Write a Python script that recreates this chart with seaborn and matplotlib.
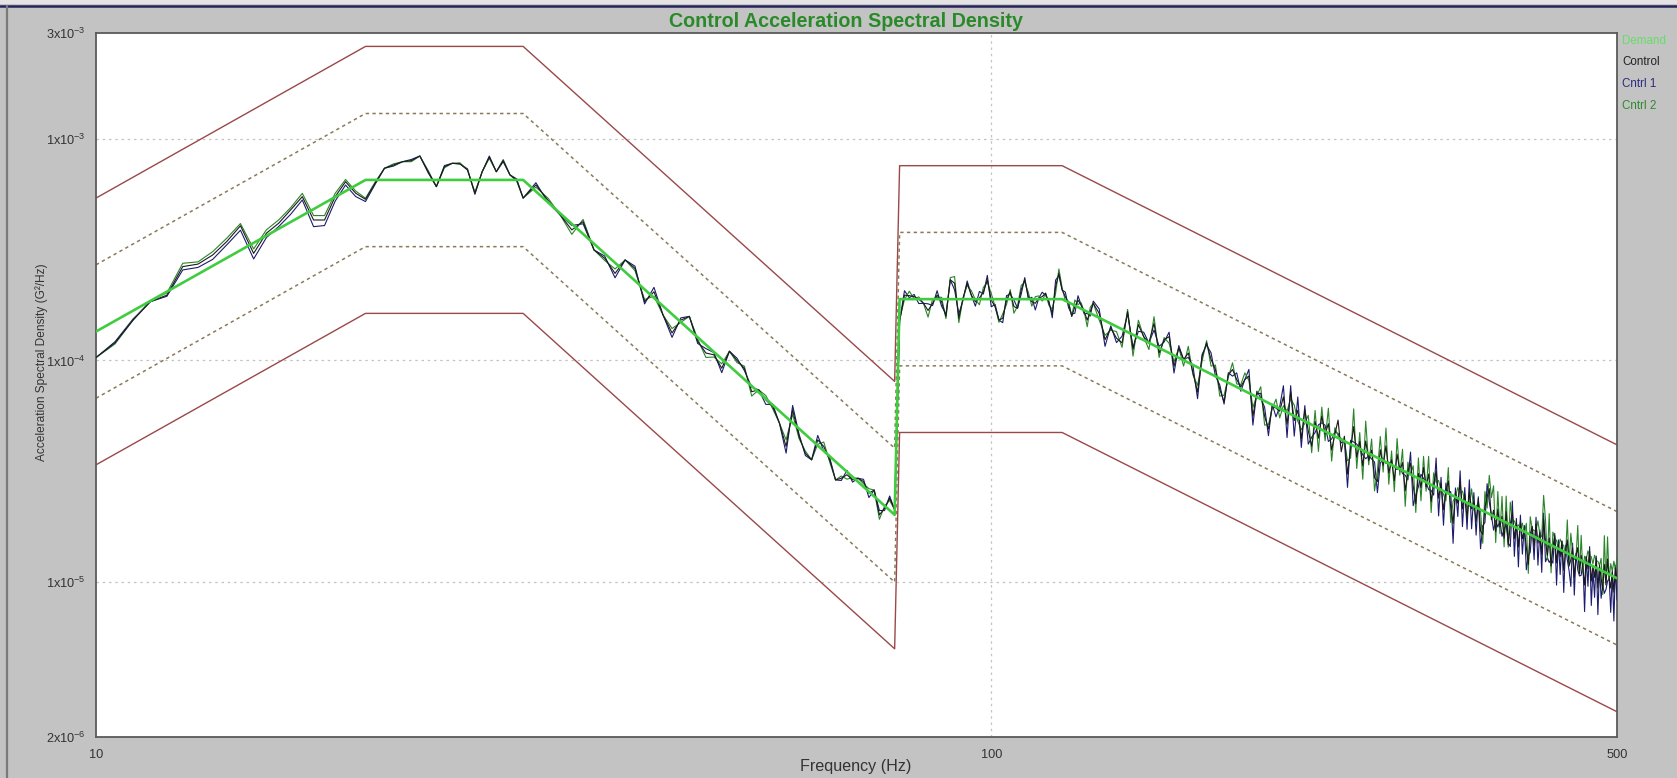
import numpy as np
import pandas as pd
import matplotlib
matplotlib.use("Agg")
import matplotlib.pyplot as plt
import seaborn as sns
from matplotlib.lines import Line2D
from matplotlib.patches import Rectangle
from matplotlib.ticker import FixedLocator, FixedFormatter, LogLocator, NullFormatter

# ---------------------------------------------------------------- data
# reference profile breakpoints (Hz) and levels (g^2/Hz)
profile_freq = [10, 20, 30, 78, 79, 120, 500]
demand_psd = [1.35e-4, 6.52e-4, 6.52e-4, 2.01e-5, 1.89e-4, 1.89e-4, 1.04e-5]
abort_hi_psd = [5.40e-4, 2.61e-3, 2.61e-3, 8.04e-5, 7.56e-4, 7.56e-4, 4.16e-5]
alarm_hi_psd = [2.70e-4, 1.30e-3, 1.30e-3, 4.02e-5, 3.78e-4, 3.78e-4, 2.08e-5]
alarm_lo_psd = [6.75e-5, 3.26e-4, 3.26e-4, 1.00e-5, 9.45e-5, 9.45e-5, 5.20e-6]
abort_lo_psd = [3.38e-5, 1.63e-4, 1.63e-4, 5.00e-6, 4.73e-5, 4.73e-5, 2.60e-6]

# analysis frequency lines of the measured spectra (Hz)
freq_a = np.arange(10.0, 30.01, 0.5)   # 41 lines
freq_b = np.arange(31, 79, 1)          # 48 lines
freq_c = np.arange(79, 131, 1)         # 52 lines
freq_d = np.arange(132, 211, 2)        # 40 lines
freq_e = np.arange(212, 501, 2)        # 145 lines

# averaged control spectrum, in units of 1e-6 g^2/Hz
control_a = [103, 120, 152, 184, 197, 265, 272, 299, 344, 405,
             304, 375, 416, 478, 548, 430, 430, 548, 640, 568,
             533, 630, 736, 762, 788, 797, 836, 710, 608, 748,
             775, 770, 723, 568, 710, 826, 710, 797, 687, 652, 540]
control_b = [619, 526, 453, 388, 423, 315, 289, 247, 284, 260,
             184, 204, 160, 133, 152, 158, 122, 108, 106, 92.2,
             110, 100, 92.0, 72.3, 73.6, 66.3, 61.9, 52.1, 40.9, 59.8,
             45.4, 38.1, 35.6, 43.8, 40.9, 35.6, 28.9, 29.4, 30.5, 28.9,
             29.4, 28.4, 25.2, 26.0, 20.1, 21.5, 23.9, 21.2]
control_c = [150, 197, 196, 194, 189, 181, 168, 181, 197, 184,
             158, 231, 223, 155, 191, 223, 197, 184, 191, 204,
             231, 187, 175, 152, 155, 187, 204, 175, 172, 208,
             231, 194, 184, 181, 191, 194, 201, 181, 163, 215,
             247, 208, 194, 181, 158, 175, 187, 178, 166, 152,
             166, 181]
control_d = [163, 124, 140, 126, 120, 166, 112, 145, 128, 120,
             147, 108, 124, 128, 94, 114, 101, 108, 88, 72,
             104, 120, 101, 91, 74, 65, 86, 91, 82, 76,
             82, 85, 56, 71, 71, 56, 49, 62, 61, 59]
control_e = [68.5, 51.5, 71.8, 53.5, 59.6, 44.4, 59.7, 48.1, 41.1, 53.0,
             44.6, 56.1, 46.5, 51.8, 39.4, 46.4, 53.8, 38.7, 45.5, 30.7,
             39.8, 50.3, 36.5, 43.1, 33.4, 43.3, 35.4, 39.4, 29.6, 28.4,
             39.5, 33.6, 41.2, 31.0, 35.6, 28.7, 37.8, 31.8, 34.6, 25.8,
             31.7, 34.4, 27.2, 22.6, 30.9, 26.7, 32.9, 26.9, 30.7, 23.1,
             27.7, 31.6, 23.9, 27.7, 21.2, 25.5, 28.6, 21.8, 18.4, 25.4,
             22.7, 28.3, 21.4, 24.9, 19.4, 25.2, 21.4, 23.1, 18.7, 23.7,
             17.0, 16.4, 21.8, 24.2, 26.4, 19.1, 21.1, 16.9, 21.3, 17.7,
             19.8, 15.8, 20.8, 14.7, 18.2, 20.7, 15.7, 18.5, 14.4, 18.7,
             15.7, 17.2, 14.3, 12.0, 16.4, 17.8, 14.5, 18.3, 15.0, 16.8,
             13.3, 19.1, 15.2, 13.2, 15.8, 11.8, 14.3, 16.2, 12.2, 14.8,
             13.0, 15.3, 11.3, 13.7, 15.5, 11.8, 12.6, 14.3, 10.5, 13.2,
             14.3, 10.9, 13.2, 11.5, 9.7, 13.0, 11.5, 13.8, 10.1, 11.8,
             10.5, 12.8, 9.4, 11.9, 10.4, 9.2, 12.0, 9.7, 12.7, 10.4,
             9.4, 11.2, 9.0, 11.6, 10.2]

# individual control channels: difference to the averaged control (dB)
cntrl1_db_a = [0.0, 0.05, 0.05, 0.0, -0.05, -0.15, -0.15, -0.2, -0.15, -0.2,
               -0.25, -0.2, -0.15, -0.2, -0.15, -0.3, -0.25, -0.2, -0.15, -0.15,
               -0.1, -0.05, 0.0, -0.05, 0.0, 0.05, 0.0, -0.05, 0.0, 0.05,
               0.0, 0.0, 0.05, -0.05, 0.0, 0.05, 0.0, -0.05, 0.0, 0.05, 0.0]
cntrl2_db_a = [0.0, -0.05, 0.0, 0.05, 0.1, 0.15, 0.1, 0.15, 0.15, 0.1,
               0.2, 0.15, 0.15, 0.1, 0.15, 0.2, 0.2, 0.15, 0.1, 0.1,
               0.05, 0.05, 0.0, 0.05, 0.0, -0.05, 0.0, 0.05, 0.0, -0.05,
               0.0, 0.05, 0.0, 0.05, 0.0, -0.05, 0.0, 0.05, 0.0, -0.05, 0.0]
cntrl1_db_b = [0.1, -0.1, 0.0, 0.2, -0.1, 0.0, 0.1, -0.2, 0.0, 0.1,
               -0.1, 0.2, 0.0, -0.2, 0.1, 0.0, -0.1, 0.2, 0.1, -0.2,
               0.0, 0.1, -0.1, 0.2, 0.0, -0.2, 0.1, 0.0, -0.3, 0.2,
               0.1, -0.1, 0.0, 0.2, -0.2, 0.1, 0.0, -0.1, 0.2, -0.1,
               0.0, 0.1, -0.2, 0.0, 0.2, -0.1, 0.1, 0.0]
cntrl2_db_b = [-0.1, 0.1, 0.0, -0.2, 0.1, 0.0, -0.1, 0.2, 0.0, -0.1,
               0.1, -0.2, 0.0, 0.2, -0.1, 0.0, 0.1, -0.2, -0.1, 0.2,
               0.0, -0.1, 0.1, -0.2, 0.0, 0.2, -0.1, 0.0, 0.3, -0.2,
               -0.1, 0.1, 0.0, -0.2, 0.2, -0.1, 0.0, 0.1, -0.2, 0.1,
               0.0, -0.1, 0.2, 0.0, -0.2, 0.1, -0.1, 0.0]
cntrl1_db_c = [0.0, 0.2, -0.1, 0.1, -0.2, 0.0, 0.3, -0.1, 0.2, -0.2,
               0.1, 0.0, -0.3, 0.2, -0.1, 0.1, 0.0, -0.2, 0.3, -0.1,
               0.2, -0.3, 0.1, 0.0, -0.2, 0.2, -0.1, 0.3, 0.0, -0.2,
               0.1, -0.1, 0.2, -0.3, 0.0, 0.2, -0.1, 0.1, -0.2, 0.3,
               -0.1, 0.0, 0.2, -0.2, 0.1, -0.3, 0.2, 0.0, -0.1, 0.3,
               -0.2, 0.1]
cntrl2_db_c = [0.1, -0.2, 0.2, -0.1, 0.1, 0.0, -0.3, 0.2, -0.1, 0.2,
               -0.1, 0.1, 0.3, -0.2, 0.0, -0.1, 0.2, 0.1, -0.3, 0.2,
               -0.1, 0.3, 0.0, -0.1, 0.2, -0.2, 0.1, -0.3, 0.1, 0.2,
               -0.1, 0.2, -0.2, 0.3, 0.1, -0.2, 0.0, -0.1, 0.2, -0.3,
               0.2, 0.1, -0.2, 0.1, 0.0, 0.3, -0.2, 0.1, 0.0, -0.3,
               0.2, 0.0]
cntrl1_db_d = [0.2, -0.3, 0.1, -0.2, 0.3, -0.1, 0.1, -0.3, 0.2, 0.0,
               -0.3, 0.3, -0.1, 0.2, -0.3, 0.1, 0.0, -0.2, 0.3, -0.3,
               0.1, -0.1, 0.3, -0.3, 0.2, -0.1, 0.1, -0.3, 0.3, -0.2,
               0.0, 0.3, -0.4, 0.1, -0.2, 0.4, -0.3, 0.1, -0.4, 0.2]
cntrl2_db_d = [-0.3, 0.2, -0.1, 0.3, -0.2, 0.1, -0.3, 0.2, 0.0, -0.3,
               0.3, -0.2, 0.1, -0.3, 0.2, 0.0, -0.3, 0.3, -0.1, 0.3,
               -0.2, 0.1, -0.3, 0.2, -0.3, 0.3, -0.1, 0.3, -0.2, 0.1,
               0.3, -0.2, 0.4, -0.1, 0.3, -0.4, 0.2, -0.1, 0.4, -0.3]
cntrl1_db_e = [0.5, -0.6, 0.3, -0.7, 0.6, -0.4, 0.2, -0.6, 0.4, -0.5,
               0.6, -0.3, 0.4, -0.8, 0.5, 0.1, -0.6, 0.4, -0.2, -0.6,
               0.4, -0.7, 0.6, -0.3, 0.5, -0.8, 0.2, -0.4, 0.7, -0.5,
               -0.6, 0.3, -0.8, 0.5, -0.2, 0.6, -0.7, 0.2, -0.5, 0.7,
               -0.4, 0.5, -0.9, 0.4, -0.6, 0.6, -0.5, 0.2, -0.7, 0.5,
               -0.5, 0.6, -0.8, 0.3, -0.7, 0.4, -0.6, 0.7, -0.9, 0.2,
               -0.6, 0.5, -0.8, 0.3, -0.5, 0.6, -0.9, 0.4, -0.6, 0.1,
               -0.8, 0.4, -0.7, 0.6, -0.6, 0.2, -0.9, 0.5, -0.8, 0.3,
               -0.9, 0.4, -0.6, 0.1, -1.0, 0.5, -0.8, 0.2, -0.9, 0.3,
               -0.7, 0.2, -1.0, 0.4, -0.8, 0.0, -0.6, 0.3, -1.0, 0.1,
               -0.8, 0.3, -0.9, -0.1, -1.1, 0.3, -0.7, 0.1, -1.0, 0.2,
               -0.8, 0.0, -1.0, 0.3, -0.9, -0.2, -1.2, 0.2, -0.8, 0.1,
               -1.0, -0.1, -0.9, 0.3, -1.2, 0.0, -0.8, 0.2, -1.1, -0.2,
               -0.9, 0.1, -1.2, -0.1, -0.9, 0.2, -1.3, -0.2, -1.0, 0.0,
               -1.1, -0.1, -1.3, 0.1, -0.9]
cntrl2_db_e = [-0.4, 0.6, -0.3, 0.7, -0.5, 0.4, -0.6, 0.7, -0.3, 0.5,
               -0.6, 0.4, -0.3, 0.7, -0.5, 0.3, -0.7, 0.6, -0.2, 0.6,
               -0.4, 0.8, -0.5, 0.4, -0.6, 0.9, -0.2, 0.5, -0.6, 0.5,
               0.6, -0.3, 0.8, -0.5, 0.4, -0.5, 0.7, -0.2, 0.6, -0.7,
               0.4, -0.5, 0.9, -0.4, 0.7, -0.6, 0.5, -0.2, 0.8, -0.5,
               0.5, -0.5, 0.8, -0.3, 0.7, -0.4, 0.6, -0.7, 1.0, -0.2,
               0.7, -0.5, 0.8, -0.3, 0.5, -0.6, 0.9, -0.4, 0.7, -0.2,
               0.9, -0.4, 0.7, -0.5, 0.6, 1.0, 1.1, -0.5, 0.8, -0.3,
               0.9, -0.4, 0.7, -0.1, 1.0, -0.4, 0.8, -0.2, 1.0, -0.3,
               0.7, -0.2, 1.1, -0.4, 0.8, -0.1, 0.7, -0.3, 1.0, -0.1,
               0.8, 1.1, 1.0, -0.2, 1.1, -0.3, 0.7, -0.1, 1.0, -0.2,
               0.8, -0.1, 1.1, -0.2, 0.9, 0.1, 1.2, -0.2, 0.8, -0.1,
               1.0, 0.0, 0.9, -0.2, 1.3, -0.1, 0.8, -0.2, 1.1, 0.1,
               1.0, -0.1, 1.2, 0.0, 0.9, -0.2, 1.3, 0.1, 1.0, -0.1,
               1.1, 0.0, 1.4, -0.1, 1.0]

legend_names = ["Demand", "Control", "Cntrl 1", "Cntrl 2"]

# ---------------------------------------------------------------- assemble
freq_all = np.concatenate([freq_a, freq_b, freq_c, freq_d, freq_e])
control = np.concatenate([control_a, control_b, control_c, control_d, control_e]) * 1e-6
c1_db = np.concatenate([cntrl1_db_a, cntrl1_db_b, cntrl1_db_c, cntrl1_db_d, cntrl1_db_e])
c2_db = np.concatenate([cntrl2_db_a, cntrl2_db_b, cntrl2_db_c, cntrl2_db_d, cntrl2_db_e])
assert len(freq_all) == len(control) == len(c1_db) == len(c2_db), (
    len(freq_all), len(control), len(c1_db), len(c2_db))
cntrl1 = control * 10 ** (c1_db / 10)
cntrl2 = control * 10 ** (c2_db / 10)

traces = pd.DataFrame({
    "Frequency": np.tile(freq_all, 3),
    "PSD": np.concatenate([cntrl1, cntrl2, control]),
    "Trace": np.repeat(["Cntrl 1", "Cntrl 2", "Control"], len(freq_all)),
})
profile = pd.DataFrame({
    "Frequency": profile_freq,
    "Demand": demand_psd,
    "AbortHi": abort_hi_psd,
    "AlarmHi": alarm_hi_psd,
    "AlarmLo": alarm_lo_psd,
    "AbortLo": abort_lo_psd,
})

# ---------------------------------------------------------------- style
sns.set_style("white")
plt.rcParams["font.family"] = ["Liberation Sans", "DejaVu Sans"]
plt.rcParams["mathtext.fontset"] = "custom"
plt.rcParams["mathtext.rm"] = "Liberation Sans"
plt.rcParams["mathtext.it"] = "Liberation Sans:italic"
plt.rcParams["mathtext.bf"] = "Liberation Sans:bold"

W, H = 1677, 778
fig = plt.figure(figsize=(W / 100, H / 100), dpi=100, facecolor="#c3c3c3")
ax = fig.add_axes([96 / W, 1 - 737 / H, (1617 - 96) / W, (737 - 33) / H])
ax.set_facecolor("white")
ax.set_xscale("log")
ax.set_yscale("log")

abort_col = "#9a4848"
alarm_col = "#8a7a58"
for col, color, ls, lw in [("AbortHi", abort_col, "-", 1.0),
                           ("AbortLo", abort_col, "-", 1.0),
                           ("AlarmHi", alarm_col, (0, (2.2, 2.2)), 1.1),
                           ("AlarmLo", alarm_col, (0, (2.2, 2.2)), 1.1)]:
    sns.lineplot(data=profile, x="Frequency", y=col, ax=ax, color=color,
                 linestyle=ls, linewidth=lw, estimator=None, sort=False,
                 legend=False, zorder=2)

trace_style = {"Cntrl 1": ("#1c1c6e", 0.8, 3.0),
               "Cntrl 2": ("#2a842a", 0.8, 3.1),
               "Control": ("#1a1a1a", 0.8, 3.2)}
for name in ["Cntrl 1", "Cntrl 2", "Control"]:
    color, lw, z = trace_style[name]
    sns.lineplot(data=traces[traces["Trace"] == name], x="Frequency", y="PSD",
                 ax=ax, color=color, linewidth=lw, estimator=None, sort=False,
                 legend=False, zorder=z)

sns.lineplot(data=profile, x="Frequency", y="Demand", ax=ax, color="#3fcc3f",
             linewidth=1.9, estimator=None, sort=False, legend=False, zorder=4)

ax.set_xlim(10, 500)
ax.set_ylim(2e-6, 3e-3)
ax.set_xlabel("")
ax.set_ylabel("")

# ticks
ax.xaxis.set_major_locator(FixedLocator([10, 100, 500]))
ax.xaxis.set_major_formatter(FixedFormatter(["10", "100", "500"]))
ax.xaxis.set_minor_locator(LogLocator(base=10, subs=np.arange(2, 10), numticks=20))
ax.xaxis.set_minor_formatter(NullFormatter())
ytick_vals = [2e-6, 1e-5, 1e-4, 1e-3, 3e-3]
ytick_labels = [r"$\mathregular{2x10^{-6}}$", r"$\mathregular{1x10^{-5}}$",
                r"$\mathregular{1x10^{-4}}$", r"$\mathregular{1x10^{-3}}$",
                r"$\mathregular{3x10^{-3}}$"]
ax.yaxis.set_major_locator(FixedLocator(ytick_vals))
ax.yaxis.set_major_formatter(FixedFormatter(ytick_labels))
ax.yaxis.set_minor_locator(LogLocator(base=10, subs=np.arange(2, 10), numticks=20))
ax.yaxis.set_minor_formatter(NullFormatter())
ax.tick_params(axis="both", which="both", direction="out", color="#555555",
               labelcolor="#333333")
ax.tick_params(axis="y", which="major", labelsize=9.2, pad=4)
ax.tick_params(axis="x", which="major", labelsize=9.2, pad=5)
ax.tick_params(axis="both", which="major", length=3.5, width=0.9)
ax.tick_params(axis="both", which="minor", length=2.5, width=0.8)

# grid
for yv in [1e-3, 1e-4, 1e-5]:
    ax.axhline(yv, color="#c4c4c4", linestyle=(0, (2, 3)), linewidth=0.9, zorder=1)
ax.axvline(100, color="#c4c4c4", linestyle=(0, (2, 3)), linewidth=0.9, zorder=1)

for side in ["left", "right", "top", "bottom"]:
    ax.spines[side].set_color("#5a5a5a")
    ax.spines[side].set_linewidth(1.3)
    ax.spines[side].set_visible(True)

# texts
fig.text(846 / W, 1 - 21.5 / H, "Control Acceleration Spectral Density",
         ha="center", va="center", fontsize=14.2, fontweight="bold", color="#2a8a2a")
fig.text(856 / W, 1 - 766 / H, "Frequency (Hz)", ha="center", va="center",
         fontsize=11.6, color="#333333")
fig.text(41.5 / W, 1 - 362 / H, "Acceleration Spectral Density (G\u00b2/Hz)",
         rotation=90, ha="center", va="center", fontsize=8.6, color="#333333")

legend_colors = ["#66dd66", "#222222", "#2b2b80", "#2e8b2e"]
legend_y = [41, 62, 84, 106]
for name, color, yy in zip(legend_names, legend_colors, legend_y):
    fig.text(1622 / W, 1 - yy / H, name, ha="left", va="center",
             fontsize=8.4, color=color)

# window frame
fig.add_artist(Rectangle((0, 1 - 4 / H), 1, 4 / H, transform=fig.transFigure,
                         facecolor="#e4e4e4", edgecolor="none", zorder=-1))
fig.add_artist(Line2D([0, 1], [1 - 5.5 / H] * 2, transform=fig.transFigure,
                      color="#24245c", linewidth=1.8))
fig.add_artist(Line2D([6.5 / W] * 2, [0, 1 - 6 / H], transform=fig.transFigure,
                      color="#7a7a7a", linewidth=1.6))

fig.savefig("out.png", dpi=100, facecolor=fig.get_facecolor())
